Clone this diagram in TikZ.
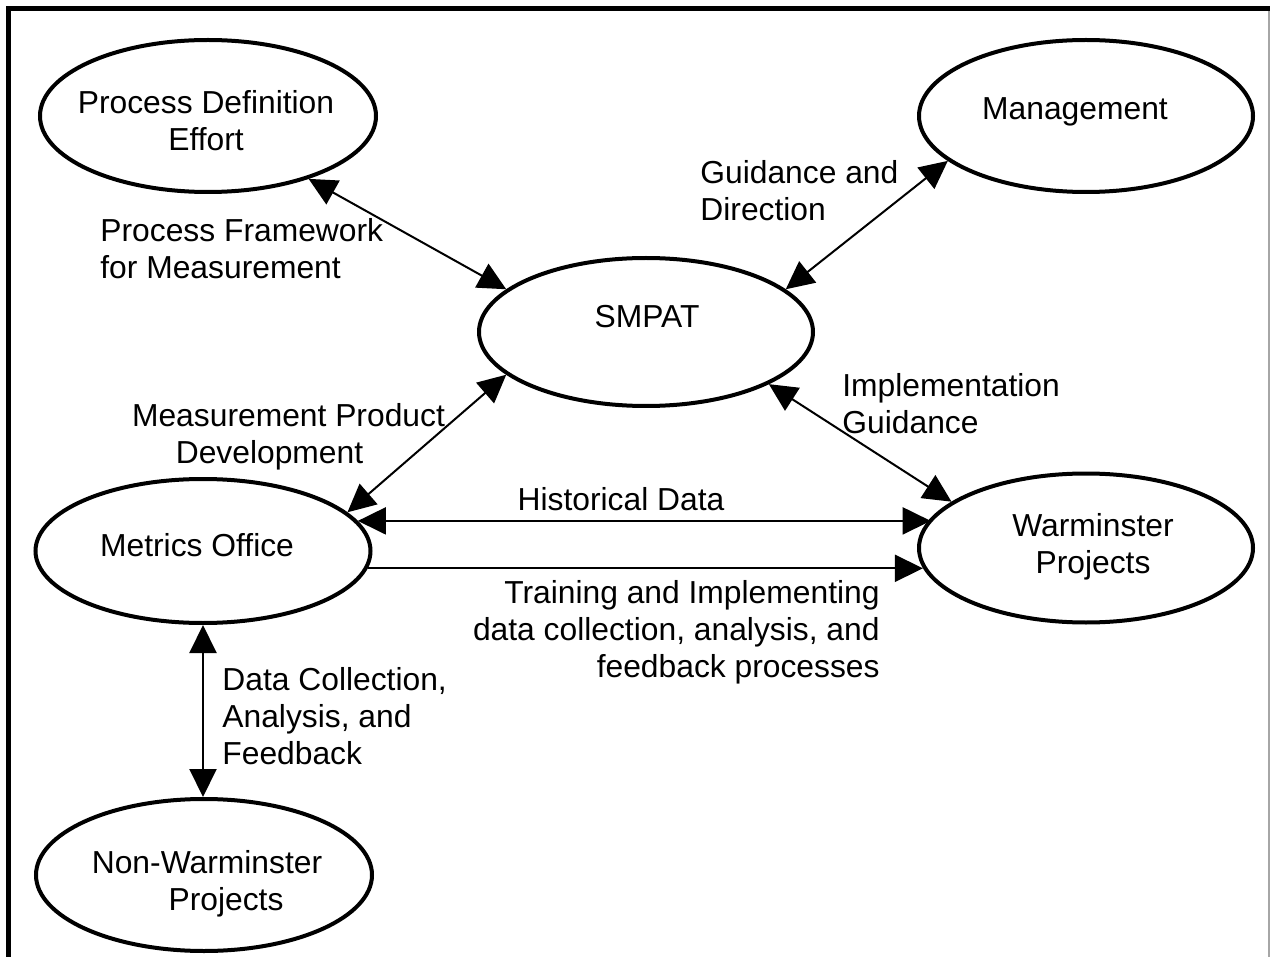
\documentclass[tikz,border=0pt]{standalone}
\usepackage{fontspec}
\setmainfont{Liberation Sans}
\usetikzlibrary{shapes.geometric,arrows.meta}
\tikzset{
  oval/.style={ellipse, draw=black, line width=2pt, inner sep=0pt},
  txt/.style={inner sep=0pt, font=\fontsize{15.9}{18.5}\selectfont, text=black},
  link/.style={draw=black, line width=1pt},
  >={Triangle[length=14pt,width=13.5pt]}
}
\begin{document}
\begin{tikzpicture}[x=0.5pt,y=-0.5pt]
\useasboundingbox (0,0) rectangle (1270,957);
% frame
\fill[black] (6,6) rectangle (1270,11);
\fill[black] (6,6) rectangle (11,957);
\draw[gray!70, line width=0.75pt] (1269,11) -- (1269,957);

% ellipses
\node[oval, minimum width=168pt, minimum height=76pt] (pd) at (208,116) {};
\node[oval, minimum width=167pt, minimum height=76pt] (mg) at (1086,116) {};
\node[oval, minimum width=167pt, minimum height=74pt] (sm) at (646,332) {};
\node[oval, minimum width=167.5pt, minimum height=72pt] (mo) at (203,551) {};
\node[oval, minimum width=167pt, minimum height=74.5pt] (wp) at (1086,548) {};
\node[oval, minimum width=168pt, minimum height=76pt] (nw) at (204,875) {};

% node texts
\node[txt, anchor=north, align=center] (pdt) at (206,90) {Process Definition\\Effort};
\node[txt, anchor=north] (mgt) at (1075,97) {Management};
\node[txt, anchor=north] (smt) at (647,305) {SMPAT};
\node[txt, anchor=north] (mot) at (197,533) {Metrics Office};
\node[txt, anchor=north, align=center] (wpt) at (1093,513) {Warminster\\Projects};
\node[txt, anchor=north, align=center] (nwt) at (207,850) {Non-Warminster\\\rule{19pt}{0pt}Projects};

% connectors
\draw[link, <->] (pd.-32) -- (sm.163.4);
\draw[link, <->] (mg.198.8) -- (sm.17.3);
\draw[link, <->] (sm.197.4) -- (mo.15.05);
\draw[link, <->] (sm.-23.8) -- (wp.161.6);
\draw[link, <->] (mo.11.74) -- (mo.11.74 -| wp.169.8);
\draw[link, ->] (mo.-6.3) -- (mo.-6.3 -| wp.187.3);
\draw[link, <->] (mo.south) -- (mo.south |- nw.north);

% labels
\node[txt, anchor=north west, align=left] (l1) at (100,218) {Process Framework\\for Measurement};
\node[txt, anchor=north west, align=left] (l2) at (700,160) {Guidance and\\Direction};
\node[txt, anchor=north west, align=left] (l3) at (842,373) {Implementation\\Guidance};
\node[txt, anchor=north, align=center] (l4) at (288.5,403) {Measurement Product\\Development\rule{19pt}{0pt}};
\node[txt, anchor=north] (l5) at (621,487) {Historical Data};
\node[txt, anchor=north east, align=right] (l6) at (880,580) {Training and Implementing\\data collection, analysis, and\\feedback processes};
\node[txt, anchor=north west, align=left] (l7) at (222,667) {Data Collection,\\Analysis, and\\Feedback};
\end{tikzpicture}
\end{document}
